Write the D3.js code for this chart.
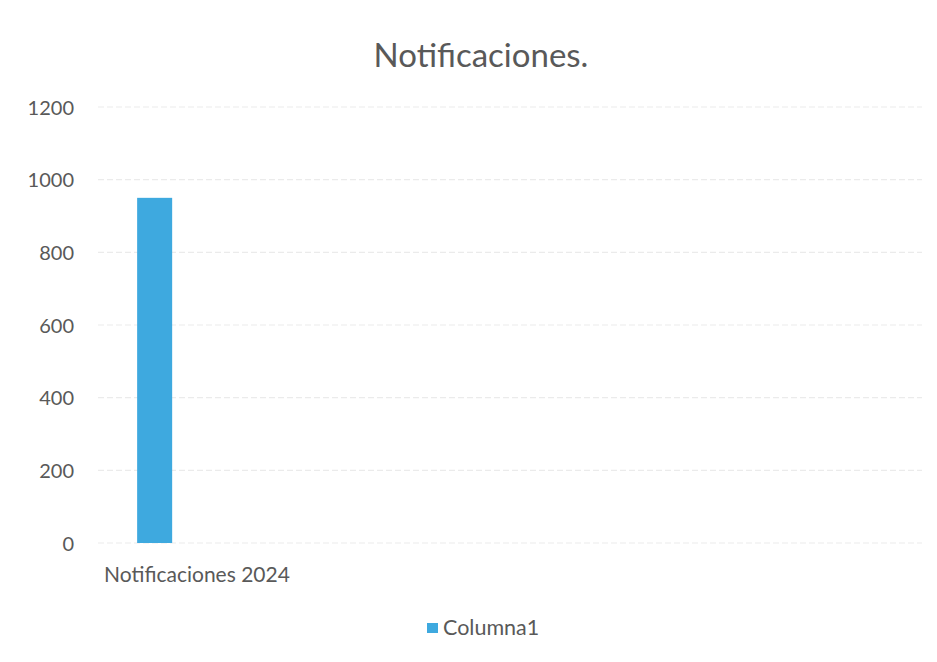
<!DOCTYPE html>
<html>
<head>
<meta charset="utf-8">
<script src="https://cdn.jsdelivr.net/npm/d3@7"></script>
<style>
  body { margin: 0; background: #fff; }
  text { font-family: Lato, "Liberation Sans", sans-serif; fill: #595959; }
</style>
</head>
<body>
<svg id="chart" width="937" height="662"></svg>
<script>
// ---- data ----
const title = "Notificaciones.";
const categories = ["Notificaciones 2024"];
const seriesNames = ["Columna1"];
const values = [950];
const yTicks = [0, 200, 400, 600, 800, 1000, 1200];

// ---- layout ----
const width = 937, height = 662;
const margin = { top: 107, right: 15, bottom: 119, left: 98 };
const slotCount = 4; // category slots on the axis
const barColor = "#3ea9df";

const svg = d3.select("#chart");
const plotW = width - margin.left - margin.right;
const plotH = height - margin.top - margin.bottom;
const g = svg.append("g").attr("transform", `translate(${margin.left},${margin.top})`);

const x = d3.scaleBand()
  .domain(d3.range(slotCount))
  .range([0, plotW]);

const y = d3.scaleLinear()
  .domain([0, 1200])
  .range([plotH, 0]);

// Gridlines
g.append("g")
  .selectAll("line")
  .data(yTicks)
  .join("line")
  .attr("x1", 0)
  .attr("x2", plotW)
  .attr("y1", d => y(d))
  .attr("y2", d => y(d))
  .attr("stroke", "#ebebeb")
  .attr("stroke-width", 1.2)
  .attr("stroke-dasharray", "6,3");

// Y axis labels
const yAxis = g.append("g")
  .call(d3.axisLeft(y).tickValues(yTicks).tickFormat(d3.format("d")).tickSize(0).tickPadding(24));
yAxis.select(".domain").remove();
yAxis.selectAll("text")
  .attr("font-size", "20px")
  .attr("dy", "0.36em")
  .style("fill", "#595959")
  .style("font-family", "Lato, 'Liberation Sans', sans-serif");

// Bars
const bw = x.bandwidth();
g.append("g")
  .selectAll("rect")
  .data(values)
  .join("rect")
  .attr("x", (d, i) => x(i) + bw * 0.19)
  .attr("width", bw * 0.17)
  .attr("y", d => y(d))
  .attr("height", d => y(0) - y(d))
  .attr("fill", barColor);

// Category labels
g.append("g")
  .selectAll("text")
  .data(categories)
  .join("text")
  .attr("x", (d, i) => x(i) + bw / 2 - 4)
  .attr("y", plotH + 39)
  .attr("text-anchor", "middle")
  .attr("font-size", "21px")
  .text(d => d);

// Title
svg.append("text")
  .attr("x", 481)
  .attr("y", 67)
  .attr("text-anchor", "middle")
  .attr("font-size", "33px")
  .text(title);

// Legend
const legend = svg.append("g")
  .attr("transform", "translate(427, 628)");
legend.selectAll("rect")
  .data(seriesNames)
  .join("rect")
  .attr("x", 0)
  .attr("y", -5)
  .attr("width", 11)
  .attr("height", 10)
  .attr("fill", barColor);
legend.selectAll("text")
  .data(seriesNames)
  .join("text")
  .attr("x", 16)
  .attr("y", 7)
  .attr("font-size", "21.5px")
  .text(d => d);
</script>
</body>
</html>
